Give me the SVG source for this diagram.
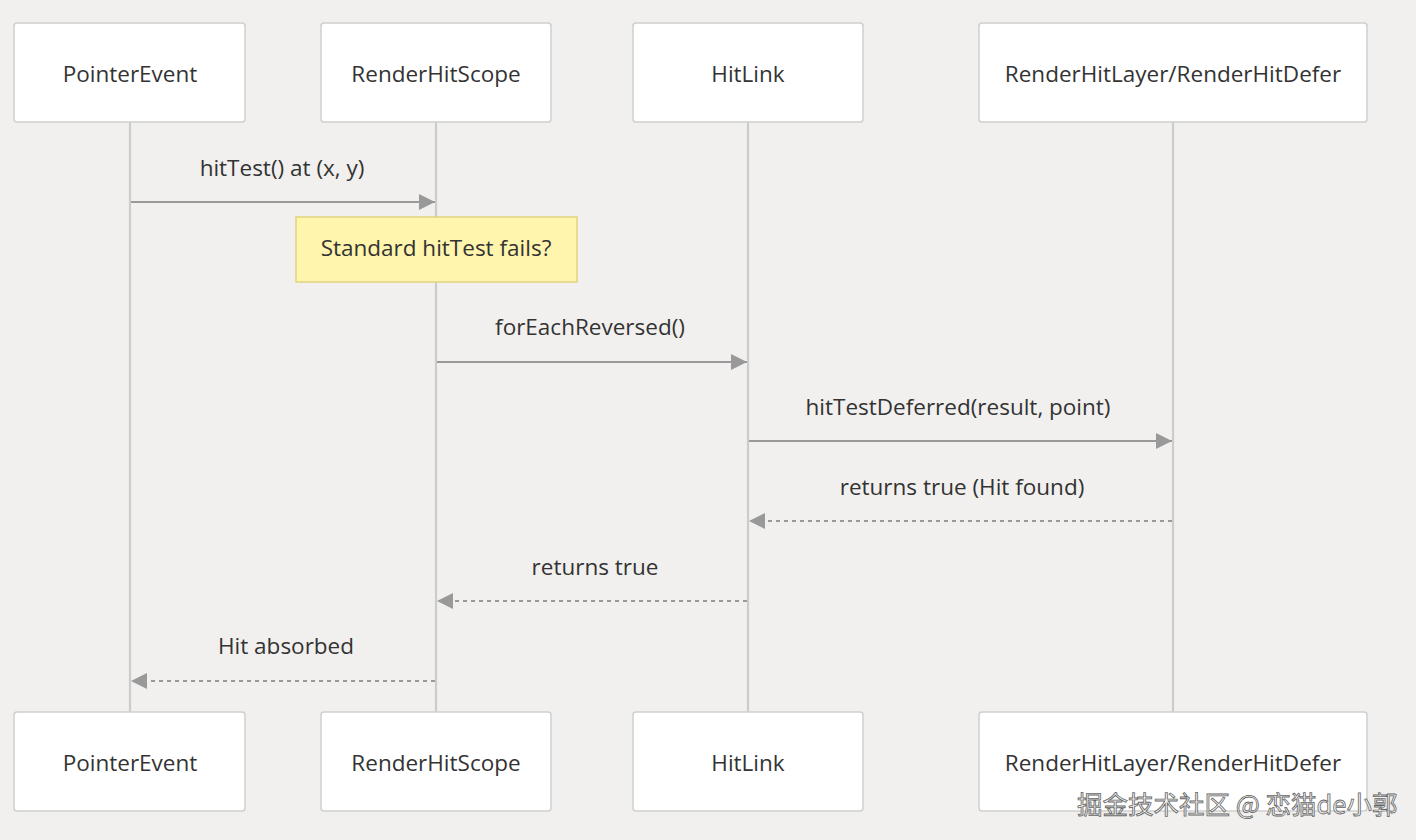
<svg xmlns="http://www.w3.org/2000/svg" width="1416" height="840" viewBox="0 0 1416 840">
<defs>
<style>
.actor rect{fill:#fff;stroke:#cfcfcf;stroke-width:1.5}
text{font-family:"Open Sans","Noto Sans",sans-serif;font-size:22.5px;fill:#333;text-anchor:middle;dominant-baseline:central}
.life{stroke:#cccccc;stroke-width:2.2}
.msg{stroke:#999;stroke-width:2;fill:none}
.dash{stroke-dasharray:4 4}
.wm{font-family:"Noto Sans CJK SC","Noto Sans",sans-serif;font-size:25.5px;fill:#f4f4f4;stroke:#666;stroke-width:0.8;text-anchor:start}
</style>
<marker id="ahb" viewBox="0 0 16 16" refX="16" refY="8" markerWidth="16" markerHeight="16" markerUnits="userSpaceOnUse" orient="auto">
<path d="M0,0 L16,8 L0,16 z" fill="#999"/>
</marker>
</defs>
<rect width="1416" height="840" fill="#f1f0ee"/>
<g id="lifelines">
<line class="life" x1="130" y1="122" x2="130" y2="712"/>
<line class="life" x1="436" y1="122" x2="436" y2="712"/>
<line class="life" x1="748" y1="122" x2="748" y2="712"/>
<line class="life" x1="1173" y1="122" x2="1173" y2="712"/>
</g>
<g id="actor-pointer-top" class="actor"><rect x="14" y="23" width="231" height="99" rx="3"/><text x="130" y="73">PointerEvent</text></g>
<g id="actor-scope-top" class="actor"><rect x="321" y="23" width="230" height="99" rx="3"/><text x="436" y="73">RenderHitScope</text></g>
<g id="actor-link-top" class="actor"><rect x="633" y="23" width="230" height="99" rx="3"/><text x="748" y="73">HitLink</text></g>
<g id="actor-layer-top" class="actor"><rect x="979" y="23" width="388" height="99" rx="3"/><text x="1173" y="73">RenderHitLayer/RenderHitDefer</text></g>
<g id="actor-pointer-bottom" class="actor"><rect x="14" y="712" width="231" height="99" rx="3"/><text x="130" y="762">PointerEvent</text></g>
<g id="actor-scope-bottom" class="actor"><rect x="321" y="712" width="230" height="99" rx="3"/><text x="436" y="762">RenderHitScope</text></g>
<g id="actor-link-bottom" class="actor"><rect x="633" y="712" width="230" height="99" rx="3"/><text x="748" y="762">HitLink</text></g>
<g id="actor-layer-bottom" class="actor"><rect x="979" y="712" width="388" height="99" rx="3"/><text x="1173" y="762">RenderHitLayer/RenderHitDefer</text></g>
<g id="note"><rect x="296" y="217" width="281" height="65" fill="#fff5ad" stroke="#e2d27e" stroke-width="1.5"/><text x="436" y="247">Standard hitTest fails?</text></g>
<g id="connectors">
<text x="282" y="167">hitTest() at (x, y)</text>
<line class="msg" x1="131" y1="202" x2="435" y2="202" marker-end="url(#ahb)"/>
<text x="590" y="326">forEachReversed()</text>
<line class="msg" x1="437" y1="362" x2="747" y2="362" marker-end="url(#ahb)"/>
<text x="958" y="406">hitTestDeferred(result, point)</text>
<line class="msg" x1="749" y1="441" x2="1172" y2="441" marker-end="url(#ahb)"/>
<text x="962" y="486">returns true (Hit found)</text>
<line class="msg dash" x1="1172" y1="521" x2="749" y2="521" marker-end="url(#ahb)"/>
<text x="595" y="566">returns true</text>
<line class="msg dash" x1="747" y1="601" x2="437" y2="601" marker-end="url(#ahb)"/>
<text x="286" y="645">Hit absorbed</text>
<line class="msg dash" x1="435" y1="681" x2="131" y2="681" marker-end="url(#ahb)"/>
</g>
<text class="wm" x="1077" y="802">掘金技术社区 @ 恋猫de小郭</text>
</svg>
